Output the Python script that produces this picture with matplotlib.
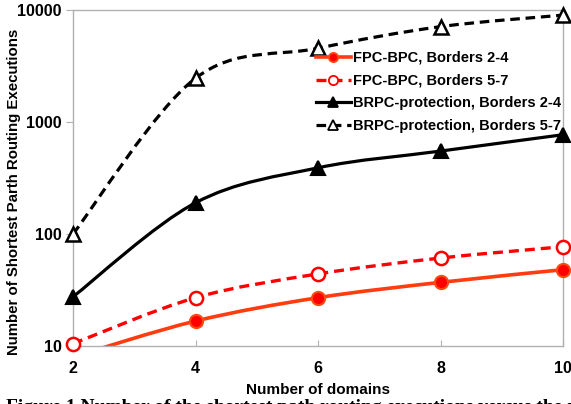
import matplotlib
matplotlib.use("Agg")
import matplotlib.pyplot as plt
import numpy as np
from matplotlib.path import Path
from matplotlib.patches import PathPatch
from matplotlib.lines import Line2D

plt.rcParams['font.family'] = ['Liberation Sans', 'DejaVu Sans']
plt.rcParams['font.weight'] = 'bold'

domains = [2, 4, 6, 8, 10]
fpc_2_4 = [8, 16.7, 27, 37, 48]
fpc_5_7 = [10.5, 27, 44, 61, 77]
brpc_2_4 = [27.5, 190, 390, 550, 770]
brpc_5_7 = [100, 2460, 4550, 7100, 9000]

labels = ['FPC-BPC, Borders 2-4', 'FPC-BPC, Borders 5-7',
          'BRPC-protection, Borders 2-4', 'BRPC-protection, Borders 5-7']

y_min, y_max = 10, 10000


def smooth_path(xs, ys):
    # excel-like smoothed line: bezier segments built in (x, log y) space
    px = np.array(xs, dtype=float)
    py = np.log10(np.array(ys, dtype=float))
    n = len(px)
    verts = [(px[0], py[0])]
    codes = [Path.MOVETO]
    for i in range(n - 1):
        i0 = max(i - 1, 0)
        i3 = min(i + 2, n - 1)
        c1 = (px[i] + (px[i + 1] - px[i0]) / 6, py[i] + (py[i + 1] - py[i0]) / 6)
        c2 = (px[i + 1] - (px[i3] - px[i]) / 6, py[i + 1] - (py[i3] - py[i]) / 6)
        verts += [c1, c2, (px[i + 1], py[i + 1])]
        codes += [Path.CURVE4] * 3
    verts = [(vx, 10 ** vy) for vx, vy in verts]
    return Path(verts, codes)


fig = plt.figure(figsize=(5.71, 4.04), dpi=100)
ax = fig.add_axes([73 / 571, 1 - 346 / 404, 490 / 571, 336 / 404])

styles = [
    dict(color='#ff3c10', ls='-', lw=2.6, marker='o', ms=9.5, mfc='#ff0000', mec='#ff4a10', mew=1.5),
    dict(color='#ff0000', ls=(0, (3, 1.8)), lw=2.4, marker='o', ms=9.5, mfc='white', mec='#ff0000', mew=1.8),
    dict(color='black', ls='-', lw=2.3, marker='^', ms=10, mfc='black', mec='black', mew=1.5),
    dict(color='black', ls=(0, (3, 1.8)), lw=2.3, marker='^', ms=10, mfc='white', mec='black', mew=1.8),
]
series = [fpc_2_4, fpc_5_7, brpc_2_4, brpc_5_7]

handles = []
for vals, st, lab in zip(series, styles, labels):
    patch = PathPatch(smooth_path(domains, vals), fill=False, edgecolor=st['color'],
                      linestyle=st['ls'], linewidth=st['lw'], capstyle='butt',
                      transform=ax.transData, zorder=2)
    ax.add_patch(patch)
    # points outside the axis range are not drawn, only the line runs out of view
    shown = np.ma.masked_outside(np.array(vals, dtype=float), y_min * 0.99, y_max * 1.01)
    ax.plot(domains, shown, linestyle='none', marker=st['marker'], markersize=st['ms'],
            markerfacecolor=st['mfc'], markeredgecolor=st['mec'],
            markeredgewidth=st['mew'], zorder=3, clip_on=False)
    handles.append(Line2D([], [], color=st['color'], linestyle=st['ls'], linewidth=st['lw'],
                          marker=st['marker'], markersize=st['ms'] * 0.7,
                          markerfacecolor=st['mfc'], markeredgecolor=st['mec'],
                          markeredgewidth=1.3))

ax.set_yscale('log')
ax.set_xlim(2, 10)
ax.set_ylim(y_min, y_max)
ax.set_xticks(domains)
ax.set_yticks([10, 100, 1000, 10000])
ax.set_yticklabels(['10', '100', '1000', '10000'])
ax.yaxis.set_minor_locator(matplotlib.ticker.NullLocator())

for sp in ax.spines.values():
    sp.set_color('#b0b0b0')
    sp.set_linewidth(1.0)

ax.tick_params(axis='x', direction='in', length=4, color='#b0b0b0', pad=11, labelsize=11.5)
ax.tick_params(axis='y', direction='out', length=5, color='#b0b0b0', pad=3, labelsize=11.5)

ax.set_xlabel('Number of domains', fontsize=11, fontweight='bold')
ax.xaxis.set_label_coords(0.5, -0.11)
ax.set_ylabel('Number of Shortest Parth Routing Executions', fontsize=10.8, fontweight='bold')
ax.yaxis.set_label_coords(-0.106, 0.46)

ax.legend(handles, labels, loc='center left', bbox_to_anchor=(0.495, 0.756),
          frameon=False, fontsize=10.5, handlelength=2.4, handletextpad=0.2,
          labelspacing=0.6, borderpad=0, borderaxespad=0)

fig.text(0.01, 1 - 399 / 404, 'Figure 1 Number of the shortest path routing executions versus the number of domains',
         fontsize=14, fontweight='bold', family='Liberation Serif', va='top', ha='left')

fig.savefig('out.png', dpi=100)
